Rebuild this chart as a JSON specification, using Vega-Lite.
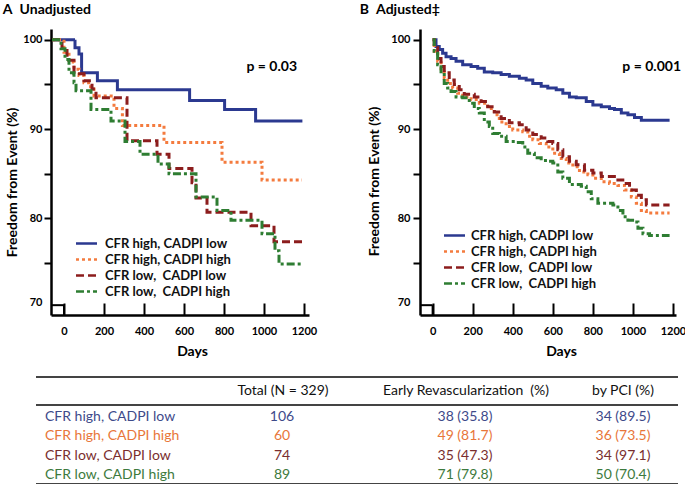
{
  "$schema": "https://vega.github.io/schema/vega-lite/v6.json",
  "background": "white",
  "padding": {"left": 2, "top": 3, "right": 0, "bottom": 0},
  "config": {
    "font": "Lato",
    "view": {"stroke": null},
    "axis": {"grid": false, "labelFont": "Lato", "titleFont": "Lato", "labelColor": "#000", "titleColor": "#000", "domainColor": "#000", "tickColor": "#000", "labelFontWeight": "bold", "labelFontSize": 11, "titleFontWeight": "bold", "titleFontSize": 14, "domainWidth": 2.5, "tickWidth": 2, "labelFlush": false},
    "legend": {"padding": 0, "rowPadding": 0, "symbolType": "M-1.5,0H1.5", "symbolSize": 196, "symbolStrokeWidth": 2.5, "labelFont": "Lato", "labelFontSize": 13, "labelFontWeight": "bold", "labelColor": "#111", "labelLimit": 300},
    "title": {"font": "Lato", "fontSize": 14, "fontWeight": "bold", "anchor": "start", "color": "#000", "offset": 12}
  },
  "datasets": {
    "survA": [
      {"group": "CFR high, CADPI low", "day": -60, "pct": 100},
      {"group": "CFR high, CADPI low", "day": 55, "pct": 99.1},
      {"group": "CFR high, CADPI low", "day": 75, "pct": 98.4},
      {"group": "CFR high, CADPI low", "day": 88, "pct": 96.3},
      {"group": "CFR high, CADPI low", "day": 167, "pct": 95.4},
      {"group": "CFR high, CADPI low", "day": 267, "pct": 94.4},
      {"group": "CFR high, CADPI low", "day": 628, "pct": 93.2},
      {"group": "CFR high, CADPI low", "day": 803, "pct": 92.2},
      {"group": "CFR high, CADPI low", "day": 958, "pct": 90.9},
      {"group": "CFR high, CADPI low", "day": 1192, "pct": 90.9},
      {"group": "CFR high, CADPI high", "day": -60, "pct": 100},
      {"group": "CFR high, CADPI high", "day": 0, "pct": 98.6},
      {"group": "CFR high, CADPI high", "day": 25, "pct": 97.5},
      {"group": "CFR high, CADPI high", "day": 50, "pct": 96.7},
      {"group": "CFR high, CADPI high", "day": 75, "pct": 96.0},
      {"group": "CFR high, CADPI high", "day": 100, "pct": 95.2},
      {"group": "CFR high, CADPI high", "day": 133, "pct": 94.5},
      {"group": "CFR high, CADPI high", "day": 150, "pct": 93.7},
      {"group": "CFR high, CADPI high", "day": 250, "pct": 92.3},
      {"group": "CFR high, CADPI high", "day": 292, "pct": 90.4},
      {"group": "CFR high, CADPI high", "day": 500, "pct": 88.5},
      {"group": "CFR high, CADPI high", "day": 790, "pct": 86.3},
      {"group": "CFR high, CADPI high", "day": 990, "pct": 84.3},
      {"group": "CFR high, CADPI high", "day": 1190, "pct": 84.3},
      {"group": "CFR low,\u00a0 CADPI low", "day": -60, "pct": 100},
      {"group": "CFR low,\u00a0 CADPI low", "day": -10, "pct": 98.8},
      {"group": "CFR low,\u00a0 CADPI low", "day": 15, "pct": 97.7},
      {"group": "CFR low,\u00a0 CADPI low", "day": 50, "pct": 96.2},
      {"group": "CFR low,\u00a0 CADPI low", "day": 100, "pct": 95.4},
      {"group": "CFR low,\u00a0 CADPI low", "day": 140, "pct": 94.5},
      {"group": "CFR low,\u00a0 CADPI low", "day": 160, "pct": 93.5},
      {"group": "CFR low,\u00a0 CADPI low", "day": 315, "pct": 88.7},
      {"group": "CFR low,\u00a0 CADPI low", "day": 465, "pct": 87.2},
      {"group": "CFR low,\u00a0 CADPI low", "day": 525, "pct": 85.6},
      {"group": "CFR low,\u00a0 CADPI low", "day": 640, "pct": 84.0},
      {"group": "CFR low,\u00a0 CADPI low", "day": 660, "pct": 82.3},
      {"group": "CFR low,\u00a0 CADPI low", "day": 715, "pct": 80.7},
      {"group": "CFR low,\u00a0 CADPI low", "day": 935, "pct": 79.2},
      {"group": "CFR low,\u00a0 CADPI low", "day": 1050, "pct": 77.4},
      {"group": "CFR low,\u00a0 CADPI low", "day": 1200, "pct": 77.4},
      {"group": "CFR low,\u00a0 CADPI high", "day": -60, "pct": 100},
      {"group": "CFR low,\u00a0 CADPI high", "day": -15, "pct": 99.0},
      {"group": "CFR low,\u00a0 CADPI high", "day": 5, "pct": 97.8},
      {"group": "CFR low,\u00a0 CADPI high", "day": 25, "pct": 96.3},
      {"group": "CFR low,\u00a0 CADPI high", "day": 50, "pct": 95.2},
      {"group": "CFR low,\u00a0 CADPI high", "day": 60, "pct": 94.3},
      {"group": "CFR low,\u00a0 CADPI high", "day": 135, "pct": 92.2},
      {"group": "CFR low,\u00a0 CADPI high", "day": 235, "pct": 90.9},
      {"group": "CFR low,\u00a0 CADPI high", "day": 305, "pct": 88.6},
      {"group": "CFR low,\u00a0 CADPI high", "day": 380, "pct": 87.2},
      {"group": "CFR low,\u00a0 CADPI high", "day": 470, "pct": 86.1},
      {"group": "CFR low,\u00a0 CADPI high", "day": 525, "pct": 85.0},
      {"group": "CFR low,\u00a0 CADPI high", "day": 660, "pct": 82.4},
      {"group": "CFR low,\u00a0 CADPI high", "day": 765, "pct": 80.9},
      {"group": "CFR low,\u00a0 CADPI high", "day": 835, "pct": 79.8},
      {"group": "CFR low,\u00a0 CADPI high", "day": 990, "pct": 78.3},
      {"group": "CFR low,\u00a0 CADPI high", "day": 1055, "pct": 76.4},
      {"group": "CFR low,\u00a0 CADPI high", "day": 1075, "pct": 74.9},
      {"group": "CFR low,\u00a0 CADPI high", "day": 1190, "pct": 74.9}
    ],
    "survB": [
      {"group": "CFR high, CADPI low", "day": 0, "pct": 100},
      {"group": "CFR high, CADPI low", "day": 17, "pct": 99.25},
      {"group": "CFR high, CADPI low", "day": 33, "pct": 98.9},
      {"group": "CFR high, CADPI low", "day": 50, "pct": 98.5},
      {"group": "CFR high, CADPI low", "day": 67, "pct": 98.1},
      {"group": "CFR high, CADPI low", "day": 92, "pct": 97.9},
      {"group": "CFR high, CADPI low", "day": 117, "pct": 97.6},
      {"group": "CFR high, CADPI low", "day": 150, "pct": 97.2},
      {"group": "CFR high, CADPI low", "day": 192, "pct": 97.0},
      {"group": "CFR high, CADPI low", "day": 225, "pct": 96.8},
      {"group": "CFR high, CADPI low", "day": 258, "pct": 96.4},
      {"group": "CFR high, CADPI low", "day": 300, "pct": 96.3},
      {"group": "CFR high, CADPI low", "day": 342, "pct": 96.1},
      {"group": "CFR high, CADPI low", "day": 383, "pct": 95.9},
      {"group": "CFR high, CADPI low", "day": 433, "pct": 95.7},
      {"group": "CFR high, CADPI low", "day": 467, "pct": 95.5},
      {"group": "CFR high, CADPI low", "day": 500, "pct": 95.1},
      {"group": "CFR high, CADPI low", "day": 542, "pct": 94.8},
      {"group": "CFR high, CADPI low", "day": 575, "pct": 94.6},
      {"group": "CFR high, CADPI low", "day": 617, "pct": 94.4},
      {"group": "CFR high, CADPI low", "day": 650, "pct": 94.0},
      {"group": "CFR high, CADPI low", "day": 683, "pct": 93.6},
      {"group": "CFR high, CADPI low", "day": 717, "pct": 93.5},
      {"group": "CFR high, CADPI low", "day": 767, "pct": 93.1},
      {"group": "CFR high, CADPI low", "day": 800, "pct": 92.7},
      {"group": "CFR high, CADPI low", "day": 842, "pct": 92.5},
      {"group": "CFR high, CADPI low", "day": 883, "pct": 92.3},
      {"group": "CFR high, CADPI low", "day": 908, "pct": 92.2},
      {"group": "CFR high, CADPI low", "day": 942, "pct": 91.8},
      {"group": "CFR high, CADPI low", "day": 975, "pct": 91.6},
      {"group": "CFR high, CADPI low", "day": 1008, "pct": 91.3},
      {"group": "CFR high, CADPI low", "day": 1042, "pct": 91.0},
      {"group": "CFR high, CADPI low", "day": 1183, "pct": 91.0},
      {"group": "CFR high, CADPI high", "day": 0, "pct": 100},
      {"group": "CFR high, CADPI high", "day": 8, "pct": 98.7},
      {"group": "CFR high, CADPI high", "day": 25, "pct": 97.6},
      {"group": "CFR high, CADPI high", "day": 42, "pct": 96.4},
      {"group": "CFR high, CADPI high", "day": 58, "pct": 95.7},
      {"group": "CFR high, CADPI high", "day": 75, "pct": 95.1},
      {"group": "CFR high, CADPI high", "day": 100, "pct": 94.6},
      {"group": "CFR high, CADPI high", "day": 125, "pct": 94.0},
      {"group": "CFR high, CADPI high", "day": 150, "pct": 93.6},
      {"group": "CFR high, CADPI high", "day": 192, "pct": 93.3},
      {"group": "CFR high, CADPI high", "day": 233, "pct": 92.9},
      {"group": "CFR high, CADPI high", "day": 275, "pct": 92.3},
      {"group": "CFR high, CADPI high", "day": 308, "pct": 91.6},
      {"group": "CFR high, CADPI high", "day": 333, "pct": 90.8},
      {"group": "CFR high, CADPI high", "day": 367, "pct": 90.3},
      {"group": "CFR high, CADPI high", "day": 400, "pct": 89.9},
      {"group": "CFR high, CADPI high", "day": 450, "pct": 89.7},
      {"group": "CFR high, CADPI high", "day": 475, "pct": 89.2},
      {"group": "CFR high, CADPI high", "day": 500, "pct": 88.8},
      {"group": "CFR high, CADPI high", "day": 533, "pct": 88.4},
      {"group": "CFR high, CADPI high", "day": 567, "pct": 88.0},
      {"group": "CFR high, CADPI high", "day": 600, "pct": 87.3},
      {"group": "CFR high, CADPI high", "day": 633, "pct": 86.7},
      {"group": "CFR high, CADPI high", "day": 667, "pct": 86.2},
      {"group": "CFR high, CADPI high", "day": 700, "pct": 85.8},
      {"group": "CFR high, CADPI high", "day": 733, "pct": 85.2},
      {"group": "CFR high, CADPI high", "day": 775, "pct": 84.9},
      {"group": "CFR high, CADPI high", "day": 800, "pct": 84.5},
      {"group": "CFR high, CADPI high", "day": 842, "pct": 84.1},
      {"group": "CFR high, CADPI high", "day": 883, "pct": 83.9},
      {"group": "CFR high, CADPI high", "day": 925, "pct": 83.7},
      {"group": "CFR high, CADPI high", "day": 958, "pct": 83.2},
      {"group": "CFR high, CADPI high", "day": 992, "pct": 82.4},
      {"group": "CFR high, CADPI high", "day": 1017, "pct": 81.7},
      {"group": "CFR high, CADPI high", "day": 1042, "pct": 80.9},
      {"group": "CFR high, CADPI high", "day": 1067, "pct": 80.6},
      {"group": "CFR high, CADPI high", "day": 1183, "pct": 80.6},
      {"group": "CFR low,\u00a0 CADPI low", "day": 0, "pct": 100},
      {"group": "CFR low,\u00a0 CADPI low", "day": 8, "pct": 99.1},
      {"group": "CFR low,\u00a0 CADPI low", "day": 25, "pct": 97.9},
      {"group": "CFR low,\u00a0 CADPI low", "day": 42, "pct": 97.0},
      {"group": "CFR low,\u00a0 CADPI low", "day": 58, "pct": 96.3},
      {"group": "CFR low,\u00a0 CADPI low", "day": 83, "pct": 95.5},
      {"group": "CFR low,\u00a0 CADPI low", "day": 108, "pct": 95.0},
      {"group": "CFR low,\u00a0 CADPI low", "day": 133, "pct": 94.4},
      {"group": "CFR low,\u00a0 CADPI low", "day": 158, "pct": 93.9},
      {"group": "CFR low,\u00a0 CADPI low", "day": 208, "pct": 93.6},
      {"group": "CFR low,\u00a0 CADPI low", "day": 242, "pct": 93.1},
      {"group": "CFR low,\u00a0 CADPI low", "day": 275, "pct": 92.5},
      {"group": "CFR low,\u00a0 CADPI low", "day": 308, "pct": 91.9},
      {"group": "CFR low,\u00a0 CADPI low", "day": 342, "pct": 91.2},
      {"group": "CFR low,\u00a0 CADPI low", "day": 383, "pct": 90.7},
      {"group": "CFR low,\u00a0 CADPI low", "day": 433, "pct": 90.5},
      {"group": "CFR low,\u00a0 CADPI low", "day": 467, "pct": 89.9},
      {"group": "CFR low,\u00a0 CADPI low", "day": 500, "pct": 89.4},
      {"group": "CFR low,\u00a0 CADPI low", "day": 542, "pct": 89.0},
      {"group": "CFR low,\u00a0 CADPI low", "day": 575, "pct": 88.6},
      {"group": "CFR low,\u00a0 CADPI low", "day": 600, "pct": 88.4},
      {"group": "CFR low,\u00a0 CADPI low", "day": 625, "pct": 87.7},
      {"group": "CFR low,\u00a0 CADPI low", "day": 650, "pct": 86.9},
      {"group": "CFR low,\u00a0 CADPI low", "day": 683, "pct": 86.4},
      {"group": "CFR low,\u00a0 CADPI low", "day": 717, "pct": 86.0},
      {"group": "CFR low,\u00a0 CADPI low", "day": 758, "pct": 85.4},
      {"group": "CFR low,\u00a0 CADPI low", "day": 800, "pct": 85.1},
      {"group": "CFR low,\u00a0 CADPI low", "day": 842, "pct": 84.7},
      {"group": "CFR low,\u00a0 CADPI low", "day": 925, "pct": 84.3},
      {"group": "CFR low,\u00a0 CADPI low", "day": 958, "pct": 83.9},
      {"group": "CFR low,\u00a0 CADPI low", "day": 983, "pct": 83.2},
      {"group": "CFR low,\u00a0 CADPI low", "day": 1017, "pct": 82.6},
      {"group": "CFR low,\u00a0 CADPI low", "day": 1042, "pct": 82.1},
      {"group": "CFR low,\u00a0 CADPI low", "day": 1067, "pct": 81.5},
      {"group": "CFR low,\u00a0 CADPI low", "day": 1183, "pct": 81.5},
      {"group": "CFR low,\u00a0 CADPI high", "day": 0, "pct": 100},
      {"group": "CFR low,\u00a0 CADPI high", "day": 8, "pct": 98.7},
      {"group": "CFR low,\u00a0 CADPI high", "day": 25, "pct": 97.2},
      {"group": "CFR low,\u00a0 CADPI high", "day": 42, "pct": 96.1},
      {"group": "CFR low,\u00a0 CADPI high", "day": 58, "pct": 95.1},
      {"group": "CFR low,\u00a0 CADPI high", "day": 75, "pct": 94.6},
      {"group": "CFR low,\u00a0 CADPI high", "day": 92, "pct": 94.2},
      {"group": "CFR low,\u00a0 CADPI high", "day": 117, "pct": 93.6},
      {"group": "CFR low,\u00a0 CADPI high", "day": 150, "pct": 93.5},
      {"group": "CFR low,\u00a0 CADPI high", "day": 183, "pct": 92.9},
      {"group": "CFR low,\u00a0 CADPI high", "day": 208, "pct": 92.3},
      {"group": "CFR low,\u00a0 CADPI high", "day": 233, "pct": 91.8},
      {"group": "CFR low,\u00a0 CADPI high", "day": 258, "pct": 90.8},
      {"group": "CFR low,\u00a0 CADPI high", "day": 283, "pct": 90.3},
      {"group": "CFR low,\u00a0 CADPI high", "day": 300, "pct": 89.5},
      {"group": "CFR low,\u00a0 CADPI high", "day": 333, "pct": 89.2},
      {"group": "CFR low,\u00a0 CADPI high", "day": 367, "pct": 88.6},
      {"group": "CFR low,\u00a0 CADPI high", "day": 417, "pct": 88.5},
      {"group": "CFR low,\u00a0 CADPI high", "day": 450, "pct": 88.0},
      {"group": "CFR low,\u00a0 CADPI high", "day": 475, "pct": 87.3},
      {"group": "CFR low,\u00a0 CADPI high", "day": 508, "pct": 86.8},
      {"group": "CFR low,\u00a0 CADPI high", "day": 542, "pct": 86.5},
      {"group": "CFR low,\u00a0 CADPI high", "day": 575, "pct": 86.4},
      {"group": "CFR low,\u00a0 CADPI high", "day": 600, "pct": 86.2},
      {"group": "CFR low,\u00a0 CADPI high", "day": 625, "pct": 85.2},
      {"group": "CFR low,\u00a0 CADPI high", "day": 650, "pct": 84.5},
      {"group": "CFR low,\u00a0 CADPI high", "day": 683, "pct": 83.8},
      {"group": "CFR low,\u00a0 CADPI high", "day": 742, "pct": 83.6},
      {"group": "CFR low,\u00a0 CADPI high", "day": 767, "pct": 83.0},
      {"group": "CFR low,\u00a0 CADPI high", "day": 792, "pct": 82.2},
      {"group": "CFR low,\u00a0 CADPI high", "day": 825, "pct": 81.7},
      {"group": "CFR low,\u00a0 CADPI high", "day": 900, "pct": 81.5},
      {"group": "CFR low,\u00a0 CADPI high", "day": 925, "pct": 80.9},
      {"group": "CFR low,\u00a0 CADPI high", "day": 950, "pct": 80.2},
      {"group": "CFR low,\u00a0 CADPI high", "day": 975, "pct": 79.8},
      {"group": "CFR low,\u00a0 CADPI high", "day": 1008, "pct": 79.6},
      {"group": "CFR low,\u00a0 CADPI high", "day": 1025, "pct": 78.9},
      {"group": "CFR low,\u00a0 CADPI high", "day": 1050, "pct": 78.3},
      {"group": "CFR low,\u00a0 CADPI high", "day": 1083, "pct": 78.1},
      {"group": "CFR low,\u00a0 CADPI high", "day": 1183, "pct": 78.1}
    ],
    "table": [
      {"group": "CFR high, CADPI low", "total": 106, "early": "38 (35.8)", "pci": "34 (89.5)"},
      {"group": "CFR high, CADPI high", "total": 60, "early": "49 (81.7)", "pci": "36 (73.5)"},
      {"group": "CFR low, CADPI low", "total": 74, "early": "35 (47.3)", "pci": "34 (97.1)"},
      {"group": "CFR low, CADPI high", "total": 89, "early": "71 (79.8)", "pci": "50 (70.4)"}
    ]
  },
  "resolve": {"scale": {"color": "independent", "strokeDash": "independent"}},
  "spacing": 18,
  "vconcat": [
    {
      "spacing": 42,
      "resolve": {"scale": {"color": "independent", "strokeDash": "independent"}},
      "hconcat": [
        {
          "width": 258,
          "height": 286,
          "title": {"text": "A\u2002Unadjusted", "dx": -3},
          "layer": [
            {
              "data": {"name": "survA"},
              "mark": {"type": "line", "interpolate": "step-after", "strokeWidth": 3},
              "encoding": {
                "x": {"field": "day", "type": "quantitative", "scale": {"domain": [-65, 1225], "nice": false, "zero": false},
                  "axis": {"values": [0, 100, 200, 300, 400, 500, 600, 700, 800, 900, 1000, 1100, 1200], "format": "d", "labelExpr": "datum.value % 200 === 0 ? datum.label : ''", "tickSize": {"condition": {"test": "datum.value % 200 === 0", "value": -12}, "value": -5}, "labelPadding": 22, "title": "Days", "titleX": 141, "titlePadding": 8}},
                "y": {"field": "pct", "type": "quantitative", "scale": {"domain": [69.2, 101.2], "nice": false, "zero": false},
                  "axis": {"values": [70, 75, 80, 85, 90, 95, 100], "labelExpr": "datum.value % 10 === 0 ? datum.label : ''", "tickSize": 7, "tickOpacity": {"condition": {"test": "datum.value === 70", "value": 0}, "value": 1}, "labelBaseline": {"condition": {"test": "datum.value === 70", "value": "bottom"}, "value": "middle"}, "labelPadding": 2, "title": "Freedom from Event (%)", "titleY": 153, "titlePadding": 3}},
                "color": {"field": "group", "type": "nominal",
                  "scale": {"domain": ["CFR high, CADPI low", "CFR high, CADPI high", "CFR low,\u00a0 CADPI low", "CFR low,\u00a0 CADPI high"], "range": ["#2b3990", "#f47b3e", "#8c1d1d", "#2e7d32"]},
                  "legend": {"title": null, "orient": "none", "legendX": 27, "legendY": 206, "labelOffset": 10}},
                "strokeDash": {"field": "group", "type": "nominal",
                  "scale": {"domain": ["CFR high, CADPI low", "CFR high, CADPI high", "CFR low,\u00a0 CADPI low", "CFR low,\u00a0 CADPI high"], "range": [[1, 0], [3, 3], [8, 4], [8, 3, 3, 3]]},
                  "legend": {"title": null, "orient": "none", "legendX": 27, "legendY": 206, "labelOffset": 10}}
              }
            },
            {
              "data": {"values": [{}]},
              "mark": {"type": "rule", "color": "#000", "strokeWidth": 2},
              "encoding": {"x": {"datum": -65}, "x2": {"datum": 0}, "y": {"datum": 70.3}}
            },
            {
              "data": {"values": [{}]},
              "mark": {"type": "rule", "color": "#000", "strokeWidth": 2},
              "encoding": {"x": {"datum": 0}, "y": {"datum": 70.3}, "y2": {"datum": 69.2}}
            },
            {
              "data": {"values": [{}]},
              "mark": {"type": "text", "align": "right", "baseline": "middle", "fontSize": 14, "fontWeight": "bold", "color": "#000"},
              "encoding": {"x": {"datum": 1165}, "y": {"datum": 96.9}, "text": {"value": "p = 0.03"}}
            }
          ]
        },
        {
          "width": 256,
          "height": 286,
          "title": {"text": "B\u2002Adjusted\u2021", "dx": -8},
          "layer": [
            {
              "data": {"name": "survB"},
              "mark": {"type": "line", "interpolate": "step-after", "strokeWidth": 3},
              "encoding": {
                "x": {"field": "day", "type": "quantitative", "scale": {"domain": [-63, 1215], "nice": false, "zero": false},
                  "axis": {"values": [0, 100, 200, 300, 400, 500, 600, 700, 800, 900, 1000, 1100, 1200], "format": "d", "labelExpr": "datum.value % 200 === 0 ? datum.label : ''", "tickSize": {"condition": {"test": "datum.value % 200 === 0", "value": -12}, "value": -5}, "labelPadding": 22, "title": "Days", "titleX": 141, "titlePadding": 8}},
                "y": {"field": "pct", "type": "quantitative", "scale": {"domain": [69.2, 101.2], "nice": false, "zero": false},
                  "axis": {"values": [70, 75, 80, 85, 90, 95, 100], "labelExpr": "datum.value % 10 === 0 ? datum.label : ''", "tickSize": 7, "tickOpacity": {"condition": {"test": "datum.value === 70", "value": 0}, "value": 1}, "labelBaseline": {"condition": {"test": "datum.value === 70", "value": "bottom"}, "value": "middle"}, "labelPadding": 3, "title": "Freedom from Event (%)", "titleY": 152, "titlePadding": 9}},
                "color": {"field": "group", "type": "nominal",
                  "scale": {"domain": ["CFR high, CADPI low", "CFR high, CADPI high", "CFR low,\u00a0 CADPI low", "CFR low,\u00a0 CADPI high"], "range": ["#2b3990", "#f47b3e", "#8c1d1d", "#2e7d32"]},
                  "legend": {"title": null, "orient": "none", "legendX": 26, "legendY": 198, "labelOffset": 8}},
                "strokeDash": {"field": "group", "type": "nominal",
                  "scale": {"domain": ["CFR high, CADPI low", "CFR high, CADPI high", "CFR low,\u00a0 CADPI low", "CFR low,\u00a0 CADPI high"], "range": [[1, 0], [3, 3], [8, 4], [8, 3, 3, 3]]},
                  "legend": {"title": null, "orient": "none", "legendX": 26, "legendY": 198, "labelOffset": 8}}
              }
            },
            {
              "data": {"values": [{}]},
              "mark": {"type": "rule", "color": "#000", "strokeWidth": 2},
              "encoding": {"x": {"datum": -63}, "x2": {"datum": 0}, "y": {"datum": 70.3}}
            },
            {
              "data": {"values": [{}]},
              "mark": {"type": "rule", "color": "#000", "strokeWidth": 2},
              "encoding": {"x": {"datum": 0}, "y": {"datum": 70.3}, "y2": {"datum": 69.2}}
            },
            {
              "data": {"values": [{}]},
              "mark": {"type": "text", "align": "right", "baseline": "middle", "fontSize": 14, "fontWeight": "bold", "color": "#000"},
              "encoding": {"x": {"datum": 1240}, "y": {"datum": 97.0}, "text": {"value": "p = 0.001"}}
            }
          ]
        }
      ]
    },
    {
      "width": 627,
      "height": 108,
      "resolve": {"scale": {"y": "independent"}},
      "layer": [
        {
          "data": {"values": [{}]},
          "mark": {"type": "rule", "color": "#444", "strokeWidth": 2},
          "encoding": {"x": {"datum": -15, "scale": {"domain": [0, 627], "nice": false, "zero": false}, "axis": null}, "x2": {"datum": 627}, "y": {"datum": 0, "scale": {"domain": [0, 108], "reverse": true, "nice": false, "zero": false}, "axis": null}}
        },
        {
          "data": {"values": [{}]},
          "mark": {"type": "rule", "color": "#444", "strokeWidth": 2},
          "encoding": {"x": {"datum": -15, "scale": {"domain": [0, 627], "nice": false, "zero": false}, "axis": null}, "x2": {"datum": 627}, "y": {"datum": 28, "scale": {"domain": [0, 108], "reverse": true, "nice": false, "zero": false}, "axis": null}}
        },
        {
          "data": {"values": [{}]},
          "mark": {"type": "rule", "color": "#444", "strokeWidth": 2},
          "encoding": {"x": {"datum": -15, "scale": {"domain": [0, 627], "nice": false, "zero": false}, "axis": null}, "x2": {"datum": 627}, "y": {"datum": 107, "scale": {"domain": [0, 108], "reverse": true, "nice": false, "zero": false}, "axis": null}}
        },
        {
          "data": {"values": [{}]},
          "mark": {"type": "text", "align": "center", "baseline": "middle", "fontSize": 14, "color": "#111"},
          "encoding": {"x": {"datum": 232, "scale": {"domain": [0, 627], "nice": false, "zero": false}, "axis": null}, "y": {"datum": 14, "scale": {"domain": [0, 108], "reverse": true, "nice": false, "zero": false}, "axis": null}, "text": {"value": "Total (N = 329)"}}
        },
        {
          "data": {"values": [{}]},
          "mark": {"type": "text", "align": "center", "baseline": "middle", "fontSize": 14, "color": "#111"},
          "encoding": {"x": {"datum": 415, "scale": {"domain": [0, 627], "nice": false, "zero": false}, "axis": null}, "y": {"datum": 14, "scale": {"domain": [0, 108], "reverse": true, "nice": false, "zero": false}, "axis": null}, "text": {"value": "Early Revascularization\u00a0 (%)"}}
        },
        {
          "data": {"values": [{}]},
          "mark": {"type": "text", "align": "center", "baseline": "middle", "fontSize": 14, "color": "#111"},
          "encoding": {"x": {"datum": 572, "scale": {"domain": [0, 627], "nice": false, "zero": false}, "axis": null}, "y": {"datum": 14, "scale": {"domain": [0, 108], "reverse": true, "nice": false, "zero": false}, "axis": null}, "text": {"value": "by PCI (%)"}}
        },
        {
          "data": {"name": "table"},
          "mark": {"type": "text", "align": "left", "baseline": "middle", "fontSize": 14},
          "encoding": {
            "x": {"datum": -6, "scale": {"domain": [0, 627], "nice": false, "zero": false}, "axis": null},
            "y": {"field": "group", "type": "nominal", "scale": {"type": "point", "domain": ["CFR high, CADPI low", "CFR high, CADPI high", "CFR low, CADPI low", "CFR low, CADPI high"], "padding": 0, "range": [40, 98]}, "axis": null},
            "text": {"field": "group"},
            "color": {"field": "group", "type": "nominal", "scale": {"domain": ["CFR high, CADPI low", "CFR high, CADPI high", "CFR low, CADPI low", "CFR low, CADPI high"], "range": ["#3e4a8a", "#e8763a", "#7a2e2e", "#3d7a3d"]}, "legend": null}
          }
        },
        {
          "data": {"name": "table"},
          "mark": {"type": "text", "align": "center", "baseline": "middle", "fontSize": 14},
          "encoding": {
            "x": {"datum": 231, "scale": {"domain": [0, 627], "nice": false, "zero": false}, "axis": null},
            "y": {"field": "group", "type": "nominal", "scale": {"type": "point", "domain": ["CFR high, CADPI low", "CFR high, CADPI high", "CFR low, CADPI low", "CFR low, CADPI high"], "padding": 0, "range": [40, 98]}, "axis": null},
            "text": {"field": "total"},
            "color": {"field": "group", "type": "nominal", "scale": {"domain": ["CFR high, CADPI low", "CFR high, CADPI high", "CFR low, CADPI low", "CFR low, CADPI high"], "range": ["#3e4a8a", "#e8763a", "#7a2e2e", "#3d7a3d"]}, "legend": null}
          }
        },
        {
          "data": {"name": "table"},
          "mark": {"type": "text", "align": "center", "baseline": "middle", "fontSize": 14},
          "encoding": {
            "x": {"datum": 414, "scale": {"domain": [0, 627], "nice": false, "zero": false}, "axis": null},
            "y": {"field": "group", "type": "nominal", "scale": {"type": "point", "domain": ["CFR high, CADPI low", "CFR high, CADPI high", "CFR low, CADPI low", "CFR low, CADPI high"], "padding": 0, "range": [40, 98]}, "axis": null},
            "text": {"field": "early"},
            "color": {"field": "group", "type": "nominal", "scale": {"domain": ["CFR high, CADPI low", "CFR high, CADPI high", "CFR low, CADPI low", "CFR low, CADPI high"], "range": ["#3e4a8a", "#e8763a", "#7a2e2e", "#3d7a3d"]}, "legend": null}
          }
        },
        {
          "data": {"name": "table"},
          "mark": {"type": "text", "align": "center", "baseline": "middle", "fontSize": 14},
          "encoding": {
            "x": {"datum": 572, "scale": {"domain": [0, 627], "nice": false, "zero": false}, "axis": null},
            "y": {"field": "group", "type": "nominal", "scale": {"type": "point", "domain": ["CFR high, CADPI low", "CFR high, CADPI high", "CFR low, CADPI low", "CFR low, CADPI high"], "padding": 0, "range": [40, 98]}, "axis": null},
            "text": {"field": "pci"},
            "color": {"field": "group", "type": "nominal", "scale": {"domain": ["CFR high, CADPI low", "CFR high, CADPI high", "CFR low, CADPI low", "CFR low, CADPI high"], "range": ["#3e4a8a", "#e8763a", "#7a2e2e", "#3d7a3d"]}, "legend": null}
          }
        }
      ]
    }
  ]
}
